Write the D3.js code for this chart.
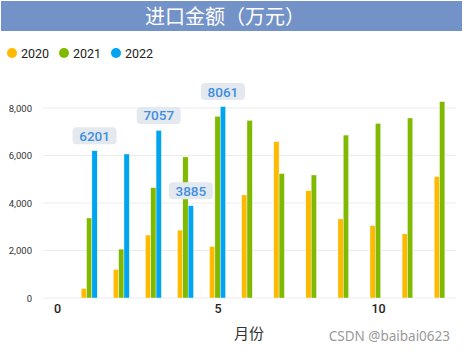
<!DOCTYPE html>
<html>
<head>
<meta charset="utf-8">
<script src="https://cdn.jsdelivr.net/npm/d3@7"></script>
<style>
  body { margin: 0; background: #fff; }
  svg { display: block; }
</style>
</head>
<body>
<div id="chart"></div>
<script>
// data
const months = [1, 2, 3, 4, 5, 6, 7, 8, 9, 10, 11, 12];
const seriesNames = ["2020", "2021", "2022"];
const values2020 = [400, 1200, 2650, 2860, 2170, 4340, 6580, 4520, 3330, 3050, 2700, 5110];
const values2021 = [3370, 2060, 4650, 5940, 7650, 7480, 5240, 5180, 6860, 7350, 7580, 8270];
const values2022 = [6201, 6063, 7057, 3885, 8061, null, null, null, null, null, null, null];
const labelledMonths2022 = [1, 3, 4, 5];
const yTicks = [0, 2000, 4000, 6000, 8000];
const xTicks = [0, 5, 10];

const colors = ["#FFB900", "#7FBA00", "#00A4EF"];
const allSeries = [values2020, values2021, values2022];

const W = 465, H = 352;
const svg = d3.select("#chart").append("svg")
    .attr("width", W)
    .attr("height", H);

// title bar
svg.append("rect")
    .attr("x", 1).attr("y", 1)
    .attr("width", 461).attr("height", 30)
    .attr("fill", "#7393C8");
svg.append("text")
    .attr("x", 225).attr("y", 24)
    .attr("text-anchor", "middle")
    .attr("fill", "#fff")
    .style("font-family", "'Noto Sans CJK SC', sans-serif")
    .style("font-size", "20px")
    .text("进口金额（万元）");

// legend
const legendX = [12, 64, 116];
const legend = svg.selectAll(".legend")
    .data(seriesNames)
    .enter().append("g")
    .attr("class", "legend")
    .attr("transform", (d, i) => `translate(${legendX[i]},53)`);
legend.append("circle")
    .attr("r", 5)
    .attr("fill", (d, i) => colors[i]);
legend.append("text")
    .attr("x", 9).attr("y", 4.5)
    .attr("fill", "#222")
    .style("font-family", "Roboto, sans-serif")
    .style("font-size", "12.5px")
    .text(d => d);

// scales
const x = d3.scaleLinear().domain([-0.44, 12.43]).range([43, 456]);
const y = d3.scaleLinear().domain([0, 2000]).range([298, 250.5]);

// grid
svg.append("g")
    .selectAll("line")
    .data(yTicks)
    .enter().append("line")
    .attr("x1", x.range()[0]).attr("x2", x.range()[1])
    .attr("y1", d => y(d)).attr("y2", d => y(d))
    .attr("stroke", "#ececec")
    .attr("stroke-width", 1);

// y axis labels
const yAxis = d3.axisLeft(y).tickValues(yTicks).tickFormat(d3.format(",")).tickSize(0).tickPadding(0);
const yg = svg.append("g").attr("transform", "translate(32,0)").call(yAxis);
yg.select(".domain").remove();
yg.selectAll("text")
    .attr("fill", "#333")
    .style("font-family", "Roboto, sans-serif")
    .style("font-size", "9.5px");

// x axis labels
const xAxis = d3.axisBottom(x).tickValues(xTicks).tickSize(0).tickPadding(0);
const xg = svg.append("g").attr("transform", "translate(0,304)").call(xAxis);
xg.select(".domain").remove();
xg.selectAll("text")
    .attr("fill", "#222")
    .style("font-family", "Roboto, sans-serif")
    .style("font-size", "12.5px")
    .style("font-weight", "500");

svg.append("text")
    .attr("x", 249).attr("y", 339)
    .attr("text-anchor", "middle")
    .attr("fill", "#333")
    .style("font-family", "'Noto Sans CJK SC', sans-serif")
    .style("font-size", "15px")
    .text("月份");

// bars
const barW = 5.35;
const offsets = [-1.5, -0.5, 0.5];
allSeries.forEach((vals, s) => {
    svg.append("g")
        .selectAll("rect")
        .data(months.map((m, i) => ({ m: m, v: vals[i] })).filter(d => d.v != null))
        .enter().append("rect")
        .attr("x", d => x(d.m) + offsets[s] * barW)
        .attr("y", d => y(d.v))
        .attr("width", barW)
        .attr("height", d => y(0) - y(d.v))
        .attr("fill", colors[s])
        .attr("stroke", "#fff")
        .attr("stroke-width", 0.4);
});

// data labels for 2022
const labels = svg.append("g")
    .selectAll("g")
    .data(labelledMonths2022.map(m => ({ m: m, v: values2022[m - 1] })))
    .enter().append("g")
    .attr("transform", d => `translate(${x(d.m) + barW},${y(d.v) - 15})`);
labels.append("rect")
    .attr("x", -22).attr("y", -8.5)
    .attr("width", 44).attr("height", 17)
    .attr("rx", 4)
    .attr("fill", "#E4E8EF");
labels.append("text")
    .attr("y", 5)
    .attr("text-anchor", "middle")
    .attr("fill", "#3D8FE0")
    .style("font-family", "Roboto, sans-serif")
    .style("font-size", "13.5px")
    .style("font-weight", "500")
    .text(d => d.v);

// watermark
svg.append("text")
    .attr("x", 450).attr("y", 341)
    .attr("text-anchor", "end")
    .attr("fill", "#999")
    .style("font-family", "'Noto Sans', sans-serif")
    .style("font-size", "13.5px")
    .text("CSDN @baibai0623");
</script>
</body>
</html>
